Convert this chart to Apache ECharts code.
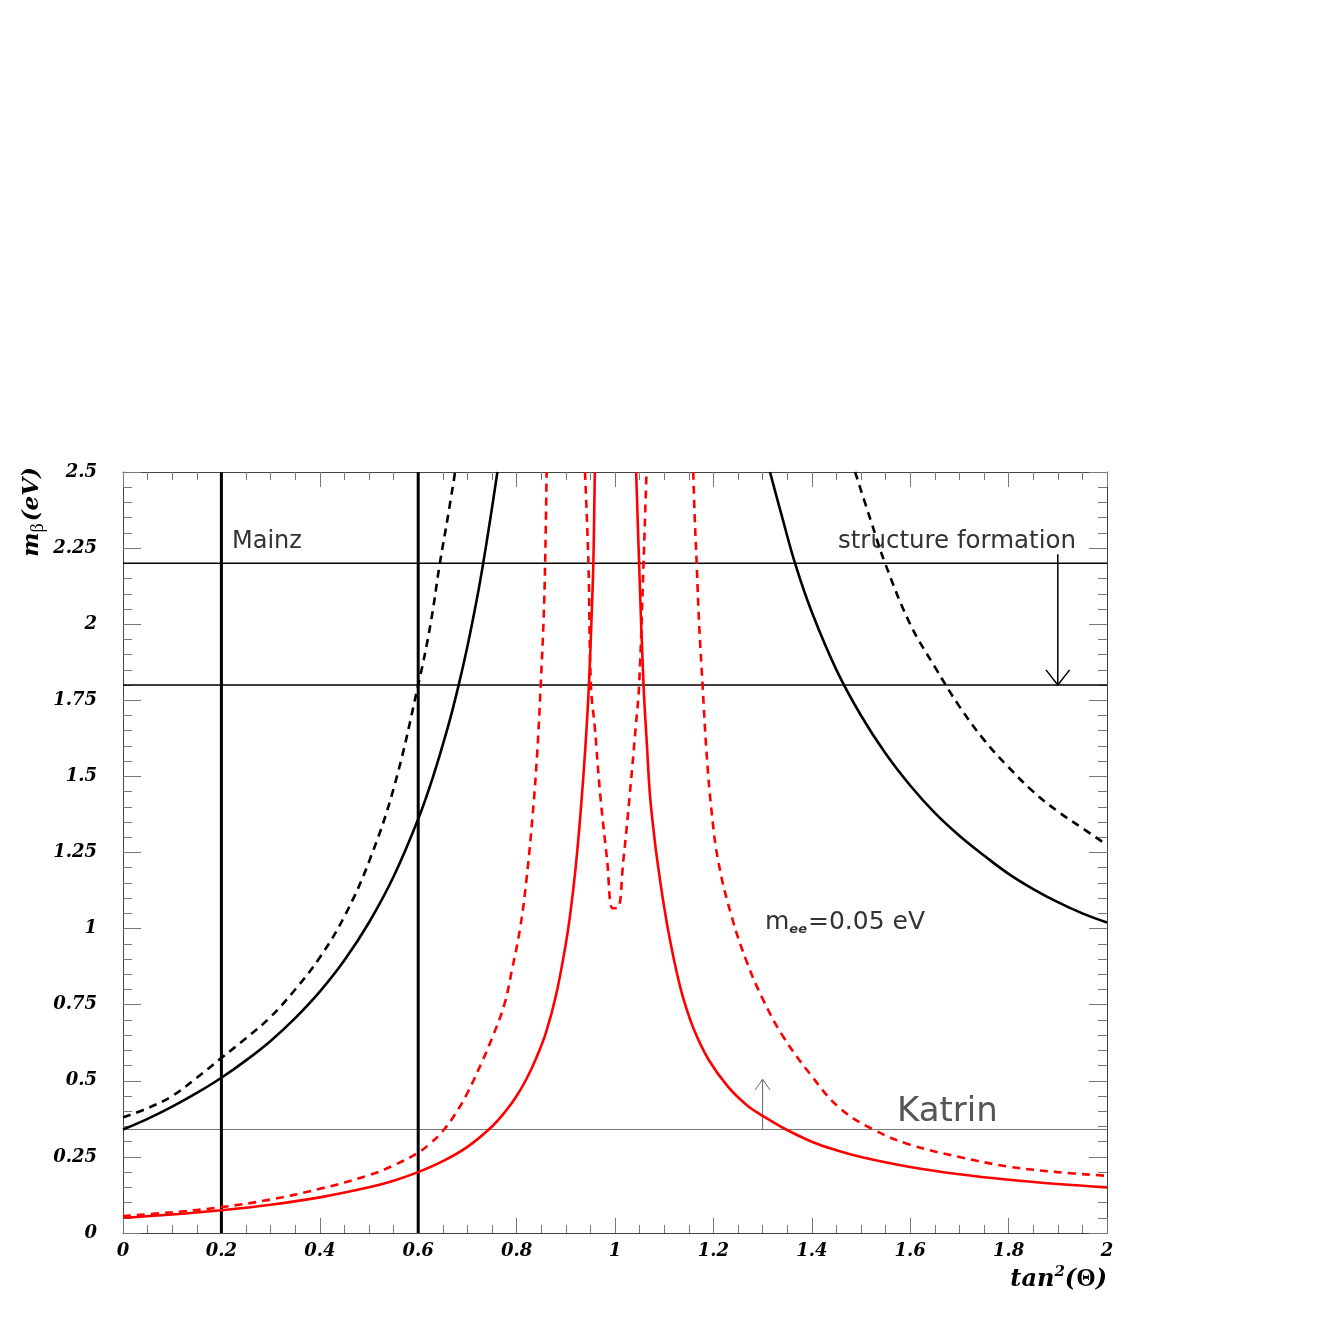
<!DOCTYPE html>
<html>
<head>
<meta charset="utf-8">
<title>m_beta vs tan^2(theta)</title>
<script src="https://cdn.jsdelivr.net/npm/echarts@6.0.0/dist/echarts.min.js"></script>
<style>
  html, body { margin: 0; padding: 0; background: #ffffff; }
  #chart { width: 1329px; height: 1329px; }
</style>
</head>
<body>
<div id="chart"></div>
<script>
// values: [tan^2(theta), m_beta]
const blackSolidLeft = [
  [0, 0.34], [0.05, 0.375], [0.1, 0.415], [0.15, 0.46], [0.2, 0.51], [0.25, 0.567],
  [0.3, 0.631], [0.35, 0.706], [0.4, 0.793], [0.45, 0.896], [0.5, 1.02], [0.55, 1.171],
  [0.6, 1.36], [0.63, 1.498], [0.66, 1.66], [0.68, 1.785], [0.7, 1.927], [0.72, 2.089],
  [0.73, 2.18], [0.745, 2.33], [0.761, 2.5]
];
const blackSolidRight = [
  [1.315, 2.5], [1.34, 2.35], [1.366, 2.2], [1.4, 2.04], [1.45, 1.85], [1.5, 1.7],
  [1.55, 1.575], [1.6, 1.47], [1.65, 1.38], [1.7, 1.305], [1.75, 1.24], [1.8, 1.18],
  [1.85, 1.13], [1.9, 1.087], [1.95, 1.05], [2.0, 1.02]
];
const blackDashedLeft = [
  [0, 0.38], [0.05, 0.41], [0.1, 0.45], [0.15, 0.51], [0.2, 0.575], [0.25, 0.64],
  [0.3, 0.71], [0.35, 0.8], [0.4, 0.905], [0.45, 1.04], [0.5, 1.22], [0.55, 1.46],
  [0.6, 1.8], [0.625, 2.0], [0.644, 2.2], [0.66, 2.35], [0.675, 2.5]
];
const blackDashedRight = [
  [1.488, 2.5], [1.52, 2.34], [1.549, 2.2], [1.6, 2.0], [1.65, 1.86], [1.7, 1.73],
  [1.75, 1.62], [1.8, 1.53], [1.85, 1.45], [1.9, 1.385], [1.95, 1.33], [2.0, 1.275]
];
const redSolidLeft = [
  [0, 0.05], [0.1, 0.061], [0.2, 0.075], [0.3, 0.093], [0.4, 0.117], [0.5, 0.15],
  [0.55, 0.172], [0.6, 0.2], [0.65, 0.236], [0.7, 0.283], [0.75, 0.35], [0.78, 0.405],
  [0.8, 0.45], [0.82, 0.506], [0.84, 0.575], [0.86, 0.66], [0.88, 0.78], [0.9, 0.95],
  [0.91, 1.06], [0.92, 1.2], [0.93, 1.38], [0.94, 1.6], [0.947, 1.8], [0.953, 2.05],
  [0.956, 2.2], [0.959, 2.5]
];
const redSolidRight = [
  [1.043, 2.5], [1.049, 2.2], [1.058, 1.8], [1.065, 1.6], [1.071, 1.44], [1.08, 1.3],
  [1.088, 1.2], [1.1, 1.07], [1.112, 0.96], [1.125, 0.86], [1.139, 0.77], [1.16, 0.67],
  [1.19, 0.57], [1.23, 0.48], [1.268, 0.42], [1.3, 0.385], [1.342, 0.345], [1.4, 0.3],
  [1.45, 0.272], [1.5, 0.25], [1.6, 0.217], [1.7, 0.193], [1.8, 0.175], [1.9, 0.161],
  [2.0, 0.15]
];
const redDashedLeft = [
  [0, 0.056], [0.1, 0.068], [0.2, 0.085], [0.3, 0.11], [0.4, 0.145], [0.5, 0.19],
  [0.55, 0.222], [0.6, 0.264], [0.625, 0.295], [0.65, 0.335], [0.675, 0.39], [0.7, 0.46],
  [0.729, 0.56], [0.75, 0.64], [0.775, 0.75], [0.79, 0.86], [0.807, 1.0], [0.82, 1.16],
  [0.833, 1.38], [0.842, 1.58], [0.849, 1.8], [0.855, 2.02], [0.858, 2.2], [0.861, 2.5]
];
const redDashedMiddle = [
  [0.939, 2.5], [0.946, 2.2], [0.951, 1.8], [0.959, 1.66], [0.97, 1.44], [0.984, 1.225],
  [0.995, 1.067], [1.005, 1.067], [1.017, 1.225], [1.03, 1.44], [1.042, 1.66], [1.049, 1.8],
  [1.058, 2.2], [1.064, 2.5]
];
const redDashedRight = [
  [1.159, 2.5], [1.162, 2.35], [1.166, 2.2], [1.171, 2.0], [1.178, 1.8], [1.186, 1.58],
  [1.196, 1.39], [1.21, 1.22], [1.237, 1.04], [1.268, 0.89], [1.3, 0.77], [1.34, 0.65],
  [1.4, 0.515], [1.457, 0.41], [1.525, 0.34], [1.6, 0.29], [1.7, 0.25], [1.8, 0.218],
  [1.9, 0.2], [2.0, 0.188]
];

// limits drawn as straight lines
const verticalLimits = [0.2, 0.6];
const mainzLimit = 2.2;
const structureLimit = 1.8;
const katrinLimit = 0.34;
const structureArrow = [[1.9, 2.23], [1.9, 1.8]];
const structureHead = [[1.876, 1.85], [1.9, 1.8], [1.924, 1.85]];
const katrinArrow = [[1.3, 0.34], [1.3, 0.505]];
const katrinHead = [[1.285, 0.47], [1.3, 0.505], [1.315, 0.47]];

const X_MIN = 0, X_MAX = 2, X_STEP = 0.2;
const Y_MIN = 0, Y_MAX = 2.5, Y_STEP = 0.25;

const serifFont = "DejaVu Serif";
const annotationFont = "DejaVu Sans";

const tickFont = {
  fontFamily: serifFont,
  fontWeight: "bold",
  fontStyle: "italic",
  fontSize: 18,
  color: "#000",
};

const chart = echarts.init(document.getElementById("chart"), null, { renderer: "canvas" });

function curve(data, color, dashed) {
  return {
    type: "line",
    data,
    showSymbol: false,
    symbol: "none",
    smooth: 0.4,
    clip: true,
    silent: true,
    z: 5,
    lineStyle: { color, width: 2.6, type: dashed ? [8, 6] : "solid" },
  };
}

function straight(data, color, width, z) {
  return {
    type: "line",
    data,
    showSymbol: false,
    symbol: "none",
    silent: true,
    z: z || 3,
    lineStyle: { color, width },
  };
}

function baseXAxis(position, showLabels) {
  return {
    type: "value",
    position,
    min: X_MIN,
    max: X_MAX,
    interval: X_STEP,
    axisLine: { show: true, onZero: false, lineStyle: { color: "#444", width: 1 } },
    axisTick: { show: true, inside: true, length: 15, lineStyle: { color: "#777", width: 1 } },
    minorTick: { show: true, splitNumber: 4, length: 8, lineStyle: { color: "#777", width: 1 } },
    splitLine: { show: false },
    axisLabel: Object.assign({ show: showLabels, margin: 9 }, tickFont),
  };
}

function baseYAxis(position, showLabels) {
  return {
    type: "value",
    position,
    min: Y_MIN,
    max: Y_MAX,
    interval: Y_STEP,
    axisLine: { show: true, onZero: false, lineStyle: { color: "#444", width: 1 } },
    axisTick: { show: true, inside: true, length: 18, lineStyle: { color: "#777", width: 1 } },
    minorTick: { show: true, splitNumber: 5, length: 9, lineStyle: { color: "#777", width: 1 } },
    splitLine: { show: false },
    axisLabel: Object.assign({ show: showLabels, margin: 26 }, tickFont),
  };
}

chart.setOption({
  animation: false,
  backgroundColor: "#ffffff",
  grid: { left: 123, right: 222, top: 472, bottom: 96, containLabel: false },
  xAxis: [baseXAxis("bottom", true), baseXAxis("top", false)],
  yAxis: [baseYAxis("left", true), baseYAxis("right", false)],
  series: [
    straight([[X_MIN, mainzLimit], [X_MAX, mainzLimit]], "#000", 1.5),
    straight([[X_MIN, structureLimit], [X_MAX, structureLimit]], "#000", 1.5),
    straight([[X_MIN, katrinLimit], [X_MAX, katrinLimit]], "#777", 1),
    ...verticalLimits.map((v) => straight([[v, Y_MIN], [v, Y_MAX]], "#000", 3, 4)),
    straight(structureArrow, "#000", 1.5),
    straight(structureHead, "#000", 1.5),
    straight(katrinArrow, "#666", 1),
    straight(katrinHead, "#666", 1),
    curve(blackSolidLeft, "#000", false),
    curve(blackSolidRight, "#000", false),
    curve(blackDashedLeft, "#000", true),
    curve(blackDashedRight, "#000", true),
    curve(redSolidLeft, "#ff0000", false),
    curve(redSolidRight, "#ff0000", false),
    curve(redDashedLeft, "#ff0000", true),
    curve(redDashedMiddle, "#ff0000", true),
    curve(redDashedRight, "#ff0000", true),
  ],
  graphic: [
    {
      type: "text", x: 232, y: 542, silent: true,
      style: { text: "Mainz", font: `24px "${annotationFont}"`, fill: "#333", verticalAlign: "middle" },
    },
    {
      type: "text", x: 838, y: 542, silent: true,
      style: { text: "structure formation", font: `24.5px "${annotationFont}"`, fill: "#333", verticalAlign: "middle" },
    },
    {
      type: "text", x: 765, y: 922, silent: true,
      style: {
        text: "{m|m}{s|ee}{m|=0.05 eV}",
        verticalAlign: "middle",
        rich: {
          m: { fontFamily: annotationFont, fontSize: 25, fill: "#333", lineHeight: 28 },
          s: { fontFamily: annotationFont, fontSize: 13, fontStyle: "italic", fontWeight: "bold", fill: "#333", lineHeight: 28, verticalAlign: "bottom", padding: [10, 1, 0, 0] },
        },
      },
    },
    {
      type: "text", x: 897, y: 1112, silent: true,
      style: { text: "Katrin", font: `34px "${annotationFont}"`, fill: "#555", verticalAlign: "middle" },
    },
    {
      type: "text", x: 1107, y: 1280, silent: true,
      style: {
        text: "{t|tan}{p|2}{t|(}{g|Θ}{t|)}",
        align: "right",
        verticalAlign: "middle",
        rich: {
          t: { fontFamily: serifFont, fontWeight: "bold", fontStyle: "italic", fontSize: 24, fill: "#000", lineHeight: 30 },
          g: { fontFamily: "Liberation Serif", fontWeight: "bold", fontSize: 25, fill: "#000", lineHeight: 30 },
          p: { fontFamily: serifFont, fontWeight: "bold", fontStyle: "italic", fontSize: 15, fill: "#000", lineHeight: 30, verticalAlign: "top", padding: [0, 0, 10, 0] },
        },
      },
    },
    {
      type: "text", x: 32, y: 512, rotation: Math.PI / 2, silent: true,
      style: {
        text: "{t|m}{b|β}{t|(eV)}",
        align: "center",
        verticalAlign: "middle",
        rich: {
          t: { fontFamily: serifFont, fontWeight: "bold", fontStyle: "italic", fontSize: 23, fill: "#000", lineHeight: 30 },
          b: { fontFamily: "Liberation Serif", fontSize: 18, fill: "#000", lineHeight: 30, verticalAlign: "bottom", padding: [12, 2, 0, 0] },
        },
      },
    },
  ],
});
</script>
</body>
</html>
